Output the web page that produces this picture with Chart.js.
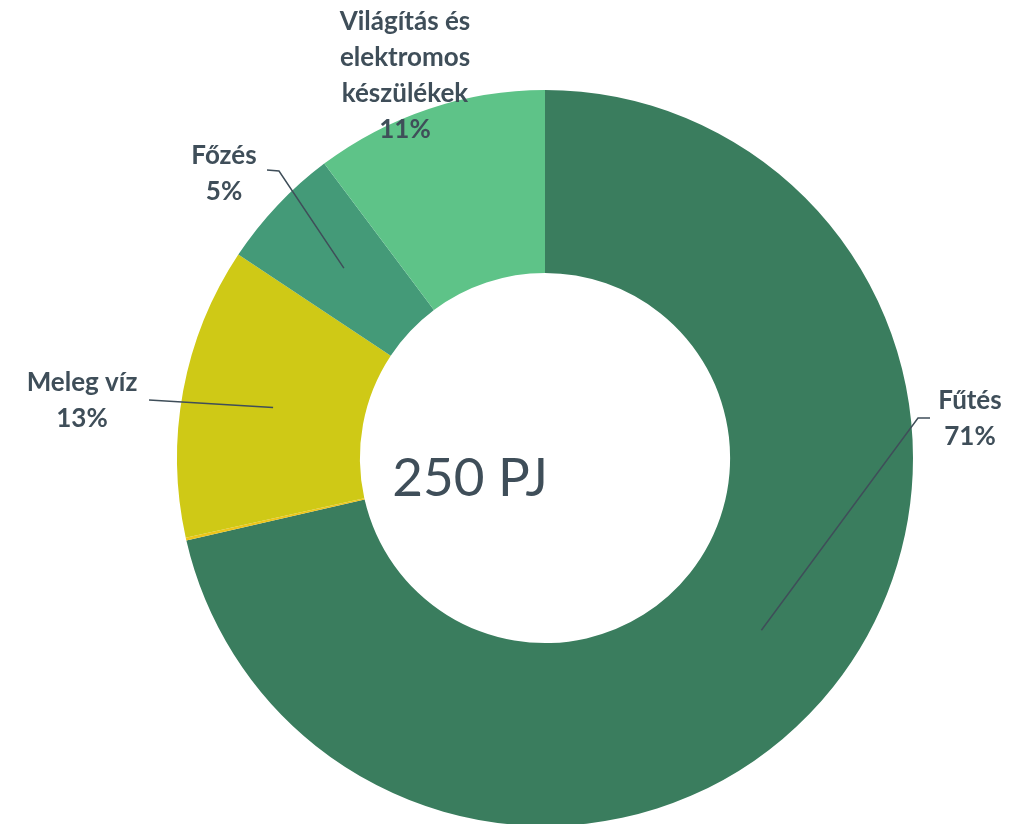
<!DOCTYPE html>
<html>
<head>
<meta charset="utf-8">
<script src="https://cdn.jsdelivr.net/npm/chart.js@4.4.1/dist/chart.umd.min.js"></script>
<style>
  html, body { margin: 0; padding: 0; background: #ffffff; overflow: hidden; }
  #wrap { width: 1030px; height: 830px; position: relative; }
</style>
</head>
<body>
<div id="wrap"><canvas id="c"></canvas></div>
<script>
// ---- Data ----
const categories = [
  ["Fűtés"],
  ["Egyéb"],
  ["Meleg víz"],
  ["Főzés"],
  ["Világítás és", "elektromos", "készülékek"]
];
const values = [178.5, 0.3, 32.0, 13.6, 25.6];          // PJ (total ≈ 250 PJ)
const percentLabels = ["71%", "", "13%", "5%", "11%"];
const totalLabel = "250 PJ";
const colors = ["#3A7D5E", "#EEC51A", "#CFC916", "#449A78", "#5EC388"];

const TEXT_COLOR = "#3F4E59";
const FONT = "Lato, 'Open Sans', 'DejaVu Sans', sans-serif";

// label placement (annotation layout only)
const labelLayout = {
  0: { x: 970, y: 401, elbow: [930, 418], knee: [918, 418] },
  2: { x: 82,  y: 383, elbow: [149, 400], knee: null },
  3: { x: 224, y: 156, elbow: [267, 170], knee: [279, 171] },
  4: { x: 405, y: 22,  elbow: null, knee: null }
};

const labelPlugin = {
  id: 'labelPlugin',
  afterDatasetsDraw(chart) {
    const ctx = chart.ctx;
    const meta = chart.getDatasetMeta(0);
    ctx.save();
    // leader lines
    ctx.strokeStyle = TEXT_COLOR;
    ctx.lineWidth = 1.5;
    Object.keys(labelLayout).forEach(k => {
      const i = +k;
      const L = labelLayout[i];
      if (!L.elbow) return;
      const arc = meta.data[i];
      const p = arc.getProps(['x','y','startAngle','endAngle','innerRadius','outerRadius'], true);
      const mid = (p.startAngle + p.endAngle) / 2;
      const r = (p.innerRadius + p.outerRadius) / 2;
      const ax = p.x + Math.cos(mid) * r;
      const ay = p.y + Math.sin(mid) * r;
      ctx.beginPath();
      ctx.moveTo(L.elbow[0], L.elbow[1]);
      if (L.knee) ctx.lineTo(L.knee[0], L.knee[1]);
      ctx.lineTo(ax, ay);
      ctx.stroke();
    });
    // texts
    ctx.fillStyle = TEXT_COLOR;
    ctx.font = "bold 26px " + FONT;
    ctx.textAlign = "center";
    ctx.textBaseline = "middle";
    const lineH = 36;
    Object.keys(labelLayout).forEach(k => {
      const i = +k;
      const L = labelLayout[i];
      const lines = chart.data.labels[i].concat([percentLabels[i]]);
      lines.forEach((t, j) => ctx.fillText(t, L.x, L.y + j * lineH));
    });
    // center total
    ctx.font = "normal 53px " + FONT;
    ctx.fillText(totalLabel, 470, 479);
    ctx.restore();
  }
};

new Chart(document.getElementById('c'), {
  type: 'doughnut',
  data: {
    labels: categories,
    datasets: [{
      data: values,
      backgroundColor: colors,
      borderWidth: 0,
      hoverOffset: 0
    }]
  },
  options: {
    responsive: true,
    maintainAspectRatio: false,
    animation: false,
    cutout: '50.3%',
    rotation: 0,
    layout: { padding: { left: 177, right: 117, top: 90, bottom: 4 } },
    plugins: {
      legend: { display: false },
      tooltip: { enabled: false }
    }
  },
  plugins: [labelPlugin]
});
</script>
</body>
</html>
